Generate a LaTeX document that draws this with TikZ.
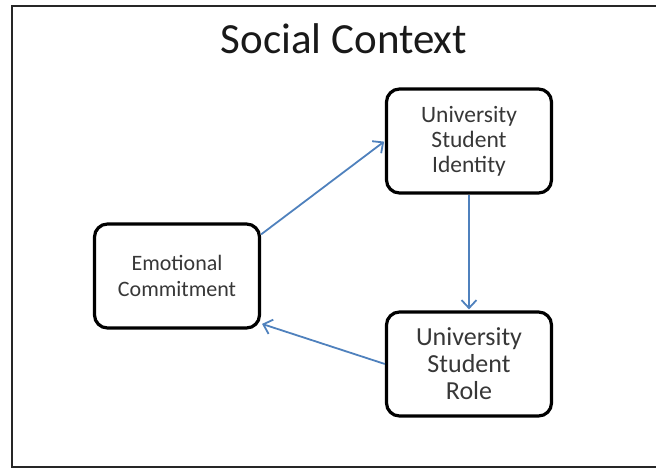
\documentclass[tikz,border=0pt]{standalone}
\usepackage{fontspec}
\setmainfont{Carlito}
\usetikzlibrary {arrows.meta, positioning}
\definecolor{linkblue}{RGB}{79,129,189}
\definecolor{boxtext}{RGB}{55,55,55}

\begin{document}
\begin{tikzpicture}[
        x=1pt, y=-1pt, shorten >=1pt, node distance=2cm, on grid,
        >={Straight Barb[length=8pt,width=15pt]},
        stage/.style={draw, line width=3.2pt, rounded corners=13pt, minimum width=165pt,
          minimum height=104pt, align=center, text=boxtext},
        link/.style={->, draw=linkblue, line width=1.8pt}
        ]
        \useasboundingbox (0,0) rectangle (656,469);

        % frame, open on the right
        \draw[line width=2.4pt, black!85] (660,6) -- (12,6) -- (12,467) -- (660,467);

        \node[anchor=base, font=\fontsize{43}{52}\selectfont, text=black!90] (title) at (344,53) {Social Context};

        \node[stage, font=\fontsize{23.5}{25}\selectfont] (ident) at (469,141) {University\\Student\\Identity};
        \node[stage, font=\fontsize{26}{27}\selectfont] (role) [below=223pt of ident] {University\\Student\\Role};
        \node[stage, font=\fontsize{22}{26}\selectfont] (emo) at (177,276) {Emotional\\Commitment};

        \draw[link] ([yshift=-12pt]emo.north east) -- (ident.west);
        \draw[link] (ident) -- (role);
        \draw[link] (role.west) -- ([yshift=6pt]emo.south east);
      \end{tikzpicture}
\end{document}
